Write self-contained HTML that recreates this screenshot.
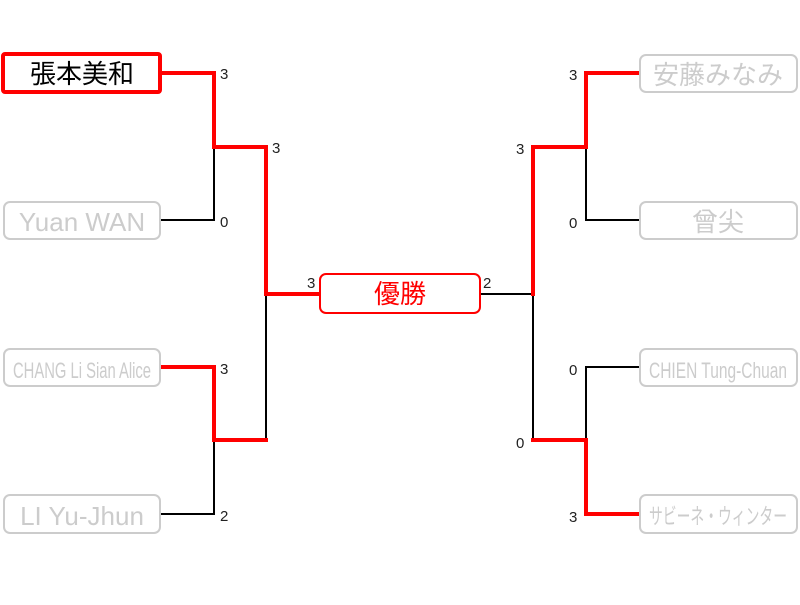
<!DOCTYPE html>
<html><head><meta charset="utf-8"><style>body{margin:0;background:#fff}</style></head><body>
<svg width="800" height="600" xmlns="http://www.w3.org/2000/svg" font-family="Liberation Sans, Noto Sans CJK JP, sans-serif">
<g fill="none" stroke-linecap="square">
<g stroke="#000" stroke-width="2">
<polyline points="160,220 214,220 214,147"/>
<polyline points="160,514 214,514 214,440"/>
<polyline points="266,440 266,294"/>
<polyline points="480,294 533,294"/>
<polyline points="533,294 533,440"/>
<polyline points="640,220 586,220 586,147"/>
<polyline points="640,367 586,367 586,440"/>
</g>
<g stroke="#f00" stroke-width="4">
<polyline points="160,73 214,73 214,147 266,147 266,294 320,294"/>
<polyline points="160,367 214,367 214,440 266,440"/>
<polyline points="640,73 586,73 586,147 533,147 533,294"/>
<polyline points="533,440 586,440 586,514 640,514"/>
</g>
<rect x="3" y="54" width="157" height="38" rx="2" stroke="#f00" stroke-width="4" fill="#fff"/>
<g stroke="#ccc" stroke-width="2" fill="#fff">
<rect x="4" y="202" width="156" height="37" rx="6"/>
<rect x="4" y="349" width="156" height="37" rx="6"/>
<rect x="4" y="495" width="156" height="38" rx="6"/>
<rect x="640" y="55" width="157" height="37" rx="6"/>
<rect x="640" y="202" width="157" height="37" rx="6"/>
<rect x="640" y="349" width="157" height="37" rx="6"/>
<rect x="640" y="495" width="157" height="38" rx="6"/>
</g>
<rect x="320" y="274" width="160" height="39" rx="6" stroke="#f00" stroke-width="2" fill="#fff"/>
</g>
<g font-size="26" text-anchor="middle">
<text x="82" y="83" fill="#000">張本美和</text>
<text x="82" y="231" fill="#ccc">Yuan WAN</text>
<text x="82" y="378" fill="#ccc" font-size="22" textLength="138" lengthAdjust="spacingAndGlyphs">CHANG Li Sian Alice</text>
<text x="82" y="525" fill="#ccc">LI Yu-Jhun</text>
<text x="718" y="84" fill="#ccc">安藤みなみ</text>
<text x="718" y="231" fill="#ccc">曾尖</text>
<text x="718" y="378" fill="#ccc" font-size="22" textLength="138" lengthAdjust="spacingAndGlyphs">CHIEN Tung-Chuan</text>
<text x="718" y="524" fill="#ccc" font-size="22" textLength="138" lengthAdjust="spacingAndGlyphs">サビーネ・ウィンター</text>
<text x="400" y="303" fill="#f00">優勝</text>
</g>
<g font-size="15" fill="#222">
<text x="220" y="79">3</text>
<text x="272" y="153">3</text>
<text x="220" y="227">0</text>
<text x="307" y="288">3</text>
<text x="220" y="374">3</text>
<text x="220" y="521">2</text>
<text x="483" y="288">2</text>
<text x="569" y="80">3</text>
<text x="516" y="154">3</text>
<text x="569" y="228">0</text>
<text x="569" y="375">0</text>
<text x="516" y="448">0</text>
<text x="569" y="522">3</text>
</g>
</svg>
</body></html>
